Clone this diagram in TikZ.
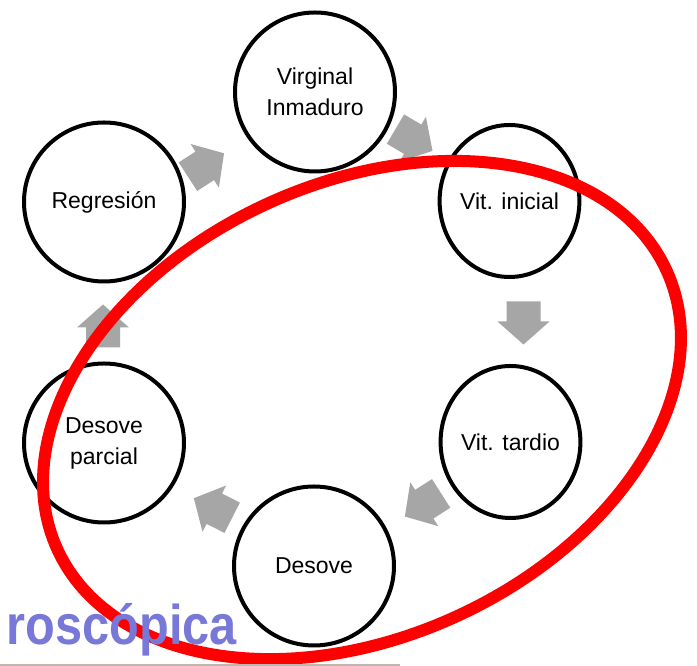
\documentclass[tikz,border=0pt]{standalone}
\usepackage{fontspec}
\setmainfont{Liberation Sans}
\usetikzlibrary{shapes.geometric}
\definecolor{arrowgray}{HTML}{A6A6A6}
\definecolor{titleblue}{HTML}{7878D8}
\definecolor{lineGray}{HTML}{C0B6B0}
\tikzset{
  stage/.style={ellipse, draw=black, line width=4pt, fill=white, inner sep=0pt,
    align=center, font=\fontsize{23}{31}\selectfont},
  bigstage/.style={stage, minimum width=160pt, minimum height=159pt},
  sidestage/.style={stage, minimum width=135pt, minimum height=152pt},
  blockarrow/.pic={\fill[arrowgray] (-21.5,-17) -- (-1.5,-17) -- (-1.5,-26) -- (21.5,0)
     -- (-1.5,26) -- (-1.5,17) -- (-21.5,17) -- cycle;},
}
\begin{document}
\begin{tikzpicture}[x=1pt,y=1pt]
\useasboundingbox (0,0) rectangle (697,666);
\fill[white] (0,0) rectangle (697,666);
% stages
\node[bigstage] (V) at (315,574) {Virginal\\Inmaduro};
\node[sidestage] (I) at (509.5,465) {Vit. inicial};
\node[sidestage] (T) at (510.5,224) {Vit. tardio};
\node[bigstage] (D) at (314,100) {Desove};
\node[bigstage] (P) at (104,223) {Desove\\parcial};
\node[bigstage] (R) at (104,464) {Regresión};
% block arrows between stages
\pic[rotate=33] (a1) at (206,501) {blockarrow};
\pic[rotate=-30.5] (a2) at (414,526) {blockarrow};
\pic[rotate=-90] (a3) at (523.5,343) {blockarrow};
\pic[rotate=-147.5] (a4) at (423,161) {blockarrow};
\pic[rotate=153] (a5) at (213,158) {blockarrow};
\pic[rotate=90] (a6) at (103,340) {blockarrow};
% red highlight ellipse
\coordinate (E) at (362,256);
\draw[red, line width=12pt, rotate around={24.6:(E)}] (E) ellipse [x radius=335pt, y radius=227pt];
% partial title
\node[anchor=base east, inner sep=0pt, text=titleblue, font=\fontsize{56}{60}\selectfont\bfseries] (title) at (237,21) {\scalebox{0.87}[1]{roscópica}};
\draw[lineGray, line width=1.5pt] (0,0.75) -- (400,0.75);
\end{tikzpicture}
\end{document}
